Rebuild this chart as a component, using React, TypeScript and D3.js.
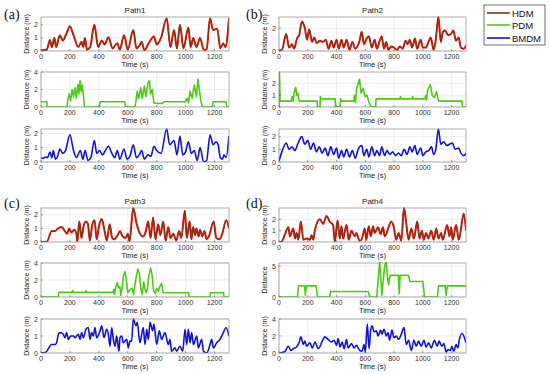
import React from "react";
import * as d3 from "d3";

type Pt = [number, number];

const xTicks = [0, 200, 400, 600, 800, 1000, 1200];
const xDomain: [number, number] = [0, 1300];
const pathNames = ["Path1", "Path2", "Path3", "Path4"];
const panelLabels = ["(a)", "(b)", "(c)", "(d)"];
const seriesNames = ["HDM", "PDM", "BMDM"];

const path1HDM: Pt[] = [[0,0.05],[40,0.1],[62,0.85],[75,0.3],[92,1.0],[105,0.3],[130,1.2],[150,0.8],[175,1.3],[200,1.9],[225,1.2],[258,0.3],[280,0.7],[292,0.3],[304,1.0],[318,0.1],[340,0.3],[369,2.0],[395,0.3],[420,0.8],[440,0.5],[466,1.05],[495,0.2],[528,0.6],[545,0.1],[574,1.2],[600,0.1],[638,1.6],[660,0.2],[680,0.4],[696,0.7],[715,0.05],[745,0.6],[781,1.1],[800,0.5],[830,1.0],[869,2.5],[895,0.3],[920,1.6],[940,0.2],[961,2.0],[985,0.2],[1019,1.8],[1035,0.3],[1053,1.0],[1075,0.3],[1100,1.0],[1125,0.1],[1145,0.1],[1169,2.5],[1190,1.6],[1219,1.7],[1240,0.2],[1260,0.6],[1275,0.3],[1300,2.5]];
const path1PDM: Pt[] = [[0,0.6],[40,0.6],[42,0],[180,0],[185,0.8],[195,1.5],[205,0.7],[215,2.0],[225,1.2],[235,2.2],[245,1.0],[255,2.6],[262,1.5],[270,3.0],[278,1.8],[285,2.5],[295,1.0],[300,0.1],[305,0],[405,0],[408,0.6],[580,0.6],[583,0],[650,0],[655,0.5],[665,1.8],[675,1.0],[690,2.2],[700,1.0],[715,2.4],[725,1.2],[740,2.8],[750,3.0],[758,1.5],[770,2.0],[780,0.5],[800,0.4],[840,0.4],[850,0.6],[1000,0.6],[1010,1.0],[1020,0.5],[1030,1.8],[1045,1.0],[1060,2.5],[1075,1.2],[1085,3.2],[1095,2.0],[1105,0.7],[1115,0.1],[1120,0],[1185,0],[1190,0.6],[1280,0.6],[1285,0],[1300,0]];
const path1BMDM: Pt[] = [[0,0.3],[15,0.25],[30,0.35],[45,0.3],[62,0.7],[75,0.3],[85,0.8],[100,0.2],[115,0.4],[131,0.9],[150,0.6],[170,0.8],[200,1.9],[225,0.8],[246,0.3],[272,0.8],[290,0.2],[305,0.8],[325,0.1],[345,0.3],[369,1.5],[385,0.6],[405,0.8],[425,0.5],[445,0.8],[466,1.1],[490,0.6],[510,0.3],[528,0.8],[545,0.2],[574,0.9],[595,0.2],[615,0.4],[638,1.2],[660,0.3],[680,0.5],[696,0.8],[715,0.2],[740,0.5],[760,0.4],[781,1.1],[800,0.8],[830,0.6],[869,2.3],[890,1.2],[920,1.5],[940,0.5],[961,1.8],[980,0.5],[1000,0.7],[1019,1.4],[1040,0.6],[1060,0.8],[1080,0.1],[1100,1.0],[1125,0.0],[1145,0.1],[1169,1.9],[1190,1.2],[1210,1.4],[1225,1.2],[1240,0.3],[1255,0.2],[1265,0.5],[1280,0.3],[1300,1.8]];

const path2HDM: Pt[] = [[0,0.05],[20,0.1],[50,1.5],[70,0.3],[90,0.6],[105,0.2],[125,1.1],[140,1.4],[160,2.6],[180,2.0],[195,1.0],[210,1.9],[230,0.8],[245,1.2],[262,0.7],[285,0.9],[305,0.8],[325,1.0],[345,0.2],[365,0.9],[380,0.3],[400,1.0],[415,0.2],[435,1.0],[450,0.3],[470,1.0],[490,0.1],[510,0.8],[530,0.2],[560,0.9],[575,1.7],[590,0.6],[610,1.1],[625,1.3],[645,0.3],[665,1.0],[680,0.2],[700,0.9],[714,1.3],[730,0.2],[745,0.8],[760,0.1],[780,0.4],[800,0.3],[820,0.1],[840,0.4],[860,0.2],[880,0.9],[895,0.6],[910,1.0],[925,0.3],[945,1.1],[960,0.2],[985,1.0],[1000,0.3],[1020,0.3],[1040,0.8],[1055,1.2],[1075,0.1],[1090,1.0],[1108,3.0],[1125,0.8],[1140,1.7],[1155,1.8],[1175,1.4],[1195,1.5],[1212,1.8],[1230,0.9],[1248,1.2],[1265,0.3],[1285,0.2],[1300,0.5]];
const path2PDM: Pt[] = [[0,0],[3,3.0],[8,0.5],[85,0.5],[92,0.9],[98,0.5],[105,1.2],[116,1.7],[124,1.0],[130,1.2],[138,0.6],[145,0.5],[265,0.5],[268,0],[285,0],[288,0.9],[292,0.7],[390,0.7],[393,0],[425,0],[428,0.7],[435,0.5],[520,0.5],[525,1.0],[532,0.4],[540,1.6],[548,1.9],[560,2.4],[570,1.2],[585,1.6],[598,0.9],[612,1.0],[625,0.4],[635,0.2],[640,0],[672,0],[675,0.7],[840,0.7],[844,0.9],[848,0.7],[925,0.7],[929,0.9],[933,0.7],[1015,0.7],[1020,1.0],[1025,0.6],[1035,1.5],[1052,1.9],[1065,1.0],[1080,0.8],[1095,1.3],[1105,0.7],[1112,0.5],[1272,0.5],[1276,0],[1300,0]];
const path2BMDM: Pt[] = [[0,0.1],[20,0.8],[50,1.5],[70,1.0],[90,1.2],[110,0.9],[130,1.4],[158,2.0],[180,1.4],[200,1.7],[220,1.0],[240,1.5],[260,0.8],[280,1.2],[300,0.7],[320,1.1],[340,0.5],[360,1.2],[380,0.6],[400,1.1],[415,0.3],[435,0.9],[450,0.4],[470,1.0],[490,0.4],[510,0.9],[530,0.3],[550,1.0],[575,1.3],[590,0.5],[610,1.0],[625,0.4],[645,1.2],[665,0.5],[680,0.9],[700,0.5],[714,1.2],[735,0.5],[750,0.9],[770,0.6],[790,0.8],[810,0.5],[830,0.7],[850,0.5],[870,1.0],[890,0.6],[910,1.2],[925,0.8],[945,1.3],[960,0.6],[985,1.1],[1000,0.5],[1020,0.8],[1040,0.9],[1060,1.2],[1075,0.6],[1090,1.0],[1108,2.6],[1125,1.4],[1145,1.6],[1165,1.3],[1185,1.4],[1205,1.5],[1225,1.0],[1248,1.1],[1265,0.7],[1285,0.5],[1300,0.7]];

const path3HDM: Pt[] = [[0,0],[40,0.02],[74,0.8],[95,0.8],[120,1.0],[143,1.1],[165,0.8],[180,0.6],[195,1.0],[210,0.7],[230,0.9],[245,0.6],[251,0.0],[265,1.5],[280,0.3],[295,1.2],[311,1.5],[325,1.3],[338,0.1],[355,1.3],[370,1.6],[385,0.2],[400,1.1],[420,1.7],[440,0.8],[455,0.1],[475,1.3],[492,0.3],[505,0.2],[530,0.5],[546,0.8],[565,0.4],[585,0.3],[600,0.6],[612,0.05],[638,2.5],[660,1.4],[685,0.6],[707,0.4],[725,0.8],[741,1.5],[758,0.3],[775,1.8],[792,0.2],[810,1.3],[825,0.5],[845,1.5],[862,0.1],[880,1.1],[895,0.3],[915,0.6],[935,0.1],[955,0.8],[970,0.3],[995,2.3],[1008,0.3],[1028,1.5],[1040,0.2],[1052,1.1],[1065,0.5],[1075,1.0],[1090,0.4],[1100,0.9],[1115,0.4],[1130,0.8],[1145,0.2],[1160,0.4],[1194,1.5],[1212,0.3],[1235,0.2],[1253,0.6],[1281,1.6],[1300,1.0]];
const path3PDM: Pt[] = [[0,0],[120,0],[123,0.55],[215,0.55],[219,0.75],[223,0.55],[308,0.55],[312,0.75],[316,0.55],[498,0.55],[503,0.9],[508,0.3],[518,1.2],[528,1.7],[535,1.1],[545,1.2],[552,0.2],[560,1.0],[570,2.5],[581,3.0],[590,2.0],[600,0.5],[612,0.8],[625,1.0],[632,1.0],[640,0.3],[650,1.5],[660,2.5],[670,3.3],[680,2.8],[690,1.0],[700,0.3],[710,1.8],[718,1.0],[728,0.5],[735,0.9],[745,2.5],[758,3.4],[768,2.6],[778,0.8],[790,0.4],[800,1.0],[812,0.7],[820,1.2],[834,1.6],[842,0.7],[846,0.5],[1020,0.5],[1024,0],[1168,0],[1172,0.5],[1262,0.5],[1266,0],[1300,0]];
const path3BMDM: Pt[] = [[0,0],[28,0.02],[39,0.1],[74,0.5],[97,0.5],[108,0.6],[120,1.1],[131,1.2],[154,1.1],[166,0.9],[177,1.2],[189,0.8],[205,1.0],[224,1.0],[235,0.9],[258,1.1],[270,0.8],[281,1.2],[293,0.9],[311,1.4],[327,1.5],[339,0.8],[350,1.2],[362,1.0],[373,1.5],[385,0.9],[408,1.3],[420,1.6],[436,0.9],[454,1.4],[466,1.1],[477,0.4],[489,1.5],[500,0.8],[512,0.4],[523,1.0],[539,0.1],[546,0.9],[558,1.0],[569,0.6],[592,0.8],[604,0.3],[615,0.7],[627,0.7],[638,2.0],[657,1.6],[666,1.8],[684,0.6],[707,1.5],[719,0.5],[731,1.4],[742,0.8],[754,1.8],[772,1.3],[781,1.7],[800,0.5],[818,1.3],[834,0.8],[857,1.2],[880,0.5],[892,0.8],[903,0.1],[926,0.3],[938,0.1],[961,0.4],[980,0.1],[996,1.4],[1008,0.5],[1019,1.4],[1031,0.6],[1042,1.2],[1054,0.5],[1077,1.0],[1088,0.3],[1111,0.8],[1123,0.1],[1146,0.0],[1169,0.5],[1180,0.8],[1192,0.3],[1215,0.6],[1238,0.8],[1261,1.2],[1279,1.5],[1300,1.0]];

const path4HDM: Pt[] = [[0,0],[18,0.02],[30,0.3],[65,1.3],[76,0.5],[99,1.2],[111,0.3],[122,0.8],[134,0.2],[152,1.8],[169,0.2],[192,0.3],[215,0.2],[226,0.6],[238,0.2],[249,1.0],[284,2.0],[307,1.6],[330,2.3],[353,1.8],[376,1.5],[388,0.0],[407,1.9],[423,0.3],[434,1.4],[446,0.3],[469,1.5],[485,0.2],[504,1.0],[527,0.5],[538,0.8],[561,0.1],[577,0.3],[596,1.2],[607,0.2],[624,1.4],[638,0.5],[654,1.4],[665,0.8],[688,1.3],[707,0.7],[723,1.3],[735,0.5],[781,1.8],[800,1.2],[815,0.2],[832,0.8],[850,0.1],[869,3.0],[885,1.6],[901,0.2],[920,1.2],[938,0.3],[961,1.8],[977,0.3],[993,1.0],[1007,0.2],[1023,0.8],[1039,0.3],[1058,1.0],[1076,0.2],[1093,1.2],[1109,0.3],[1127,0.8],[1139,0.2],[1169,1.5],[1185,0.5],[1197,1.3],[1208,0.2],[1231,1.5],[1250,0.2],[1284,2.5],[1300,1.0]];
const path4PDM: Pt[] = [[0,0],[128,0],[136,1.8],[178,1.8],[183,0.3],[190,1.8],[258,1.8],[268,0],[352,0],[360,0.9],[620,0.9],[632,0],[680,0],[690,3.0],[700,5.8],[708,3.0],[715,0.3],[722,2.0],[735,5.0],[745,5.8],[755,3.0],[762,2.0],[768,3.0],[775,3.5],[830,3.5],[836,0.5],[842,3.5],[900,3.5],[910,2.5],[1000,2.5],[1012,0],[1100,0],[1110,1.8],[1155,1.8],[1162,0.3],[1170,1.8],[1300,1.8]];
const path4BMDM: Pt[] = [[0,0],[18,0.05],[42,0.2],[65,0.8],[83,0.3],[99,0.5],[122,0.7],[139,1.2],[152,1.9],[169,1.0],[180,1.4],[192,0.8],[215,1.2],[231,0.6],[250,1.3],[273,0.5],[307,1.6],[319,1.9],[342,1.6],[365,1.3],[383,1.5],[400,0.9],[411,1.7],[425,0.7],[439,1.3],[453,0.5],[469,1.6],[480,0.6],[504,1.1],[522,0.6],[538,0.9],[561,0.3],[577,0.2],[591,1.0],[600,0.1],[614,3.4],[626,0.5],[637,2.6],[647,3.2],[661,2.5],[677,2.6],[688,2.0],[707,2.7],[716,2.2],[730,2.8],[746,2.0],[758,2.4],[769,1.5],[785,2.7],[799,1.8],[815,2.0],[831,1.6],[850,2.2],[869,3.0],[885,1.0],[901,1.5],[920,0.3],[938,1.5],[954,0.8],[970,1.4],[989,0.8],[1007,1.5],[1023,0.7],[1039,1.2],[1058,0.6],[1081,1.5],[1100,0.8],[1113,1.4],[1132,0.8],[1146,1.1],[1162,0.1],[1174,0.4],[1192,0.3],[1201,0.8],[1215,0.2],[1231,1.0],[1243,0.6],[1254,1.6],[1273,2.3],[1300,1.2]];

const yMaxes = [
  [2.6, 4, 2.3],
  [3, 3, 2.6],
  [2.5, 4, 2],
  [3, 5.5, 4],
];
const yTicksAll = [
  [[0, 1, 2], [0, 2, 4], [0, 1, 2]],
  [[0, 2], [0, 1, 2], [0, 1, 2]],
  [[0, 1, 2], [0, 2, 4], [0, 1, 2]],
  [[0, 1, 2], [0, 5], [0, 2, 4]],
];
const dataAll = [
  [path1HDM, path1PDM, path1BMDM],
  [path2HDM, path2PDM, path2BMDM],
  [path3HDM, path3PDM, path3BMDM],
  [path4HDM, path4PDM, path4BMDM],
];

const COLORS = { HDM: "#e3140d", HDMcore: "#7d3815", PDM: "#4ccb12", BMDM: "#1212d2" };
const FONT = "Liberation Sans, Arial, sans-serif";

const colX = [[41, 229], [279, 466]];
const rowY = [
  [[17, 51], [72, 107], [129, 162]],
  [[208, 242], [263, 297], [319, 353]],
];

function Subplot(props: { id: string; x0: number; x1: number; y0: number; y1: number; data: Pt[]; kind: number; ymax: number; yticks: number[]; title?: string; ylabel: string; ylabelX: number }) {
  const { id, x0, x1, y0, y1, data, kind, ymax, yticks, title, ylabel, ylabelX } = props;
  const x = d3.scaleLinear().domain(xDomain).range([x0, x1]);
  const y = d3.scaleLinear().domain([0, ymax]).range([y1, y0]);
  const line = d3
    .line<Pt>()
    .x((d) => x(d[0]))
    .y((d) => y(d[1]))
    .curve(kind === 1 ? d3.curveLinear : d3.curveMonotoneX);
  const dPath = line(data) || "";
  return (
    <g>
      <defs>
        <clipPath id={id}>
          <rect x={x0} y={y0 - 1} width={x1 - x0} height={y1 - y0 + 1} />
        </clipPath>
      </defs>
      <rect x={x0} y={y0} width={x1 - x0} height={y1 - y0} fill="#fff" />
      {xTicks.map((t) => (
        <line key={"gx" + t} x1={x(t)} x2={x(t)} y1={y0} y2={y1} stroke="#e2e2e2" strokeWidth={0.6} />
      ))}
      {yticks.map((t) => (
        <line key={"gy" + t} x1={x0} x2={x1} y1={y(t)} y2={y(t)} stroke="#e2e2e2" strokeWidth={0.6} />
      ))}
      <g clipPath={`url(#${id})`}>
        {kind === 0 ? (
          <>
            <path d={dPath} fill="none" stroke={COLORS.HDM} strokeWidth={2} strokeLinejoin="round" />
            <path d={dPath} fill="none" stroke={COLORS.HDMcore} strokeWidth={1} strokeLinejoin="round" />
          </>
        ) : (
          <path d={dPath} fill="none" stroke={kind === 1 ? COLORS.PDM : COLORS.BMDM} strokeWidth={1.6} strokeLinejoin="round" />
        )}
      </g>
      <rect x={x0} y={y0} width={x1 - x0} height={y1 - y0} fill="none" stroke="#8c8c8c" strokeWidth={0.7} />
      {xTicks.map((t) => (
        <g key={"tx" + t}>
          <line x1={x(t)} x2={x(t)} y1={y1} y2={y1 - 2} stroke="#555" strokeWidth={0.5} />
          <text x={x(t)} y={y1 + 7.5} fontSize={7} textAnchor="middle" fill="#333" fontFamily={FONT}>{t}</text>
        </g>
      ))}
      {yticks.map((t) => (
        <g key={"ty" + t}>
          <line x1={x0} x2={x0 + 2} y1={y(t)} y2={y(t)} stroke="#555" strokeWidth={0.5} />
          <text x={x0 - 3} y={y(t) + 2.5} fontSize={7} textAnchor="end" fill="#333" fontFamily={FONT}>{t}</text>
        </g>
      ))}
      <text x={(x0 + x1) / 2} y={y1 + 15.5} fontSize={7.5} textAnchor="middle" fill="#222" fontFamily={FONT}>Time (s)</text>
      <text
        transform={`translate(${ylabelX},${(y0 + y1) / 2}) rotate(-90)`}
        fontSize={7}
        textAnchor="middle"
        fill="#222"
        fontFamily={FONT}
      >
        {ylabel}
      </text>
      {title && (
        <text x={(x0 + x1) / 2} y={y0 - 4} fontSize={8} textAnchor="middle" fill="#222" fontFamily={FONT}>{title}</text>
      )}
    </g>
  );
}

export default function App() {
  const legendYs = [13, 25, 38];
  const legendColors = [COLORS.HDMcore, COLORS.PDM, COLORS.BMDM];
  return (
    <svg width={550} height={374} viewBox="0 0 550 374" style={{ position: "absolute", left: 0, top: 0, background: "#fff" }}>
      <rect x={0} y={0} width={550} height={374} fill="#fff" />
      {pathNames.map((name, p) => {
        const col = p % 2;
        const row = Math.floor(p / 2);
        const [x0, x1] = colX[col];
        return (
          <g key={name}>
            <text x={col === 0 ? 4 : 246} y={row === 0 ? 19 : 208} fontSize={14} fontFamily="Liberation Serif, Times New Roman, serif" fill="#111">
              {panelLabels[p]}
            </text>
            {[0, 1, 2].map((k) => {
              const [y0, y1] = rowY[row][k];
              return (
                <Subplot
                  key={k}
                  id={`clip-${p}-${k}`}
                  x0={x0}
                  x1={x1}
                  y0={y0}
                  y1={y1}
                  data={dataAll[p][k]}
                  kind={k}
                  ymax={yMaxes[p][k]}
                  yticks={yTicksAll[p][k]}
                  title={k === 0 ? name : undefined}
                  ylabel={p === 3 && k === 1 ? "Distance" : "Distance (m)"}
                  ylabelX={x0 - 12}
                />
              );
            })}
          </g>
        );
      })}
      <g>
        <rect x={484} y={5} width={61} height={40} fill="#fff" stroke="#333" strokeWidth={0.7} />
        {seriesNames.map((s, i) => (
          <g key={s}>
            <line x1={487} x2={510} y1={legendYs[i]} y2={legendYs[i]} stroke={legendColors[i]} strokeWidth={1.6} />
            <text x={512} y={legendYs[i] + 3.5} fontSize={9.5} fontFamily={FONT} fill="#111">{s}</text>
          </g>
        ))}
      </g>
    </svg>
  );
}
